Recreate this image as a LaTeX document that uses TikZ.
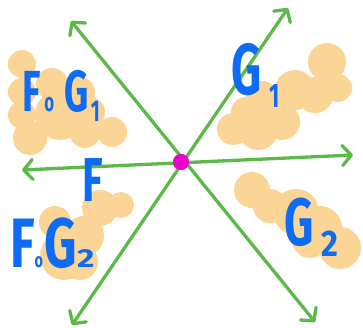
\documentclass[tikz,border=0pt]{standalone}
\usepackage{fontspec}
\usepackage{tikz}
\usetikzlibrary{arrows.meta}
\newfontfamily\handfont{Fira Sans}
\definecolor{linegreen}{HTML}{5CB848}
\definecolor{blobfill}{HTML}{FBD595}
\definecolor{inkblue}{HTML}{0F6CF2}
\definecolor{dotpink}{HTML}{EE00CC}
\newcommand{\compo}[1]{{\fontsize{#1}{#1}\selectfont o}}
\newcommand{\idx}[4]{\raisebox{#1}{\scalebox{#2}[1]{\fontsize{#3}{#3}\selectfont #4}}}

\begin{document}
\begin{tikzpicture}[x=1pt,y=-1pt,
  >={Straight Barb[length=9pt,width=20pt,round]},
  axis/.style={draw=linegreen,line width=3.3pt,line cap=round,<->},
  blob/.style={fill=blobfill,draw=none},
  lbl/.style={text=inkblue,inner sep=0pt,anchor=base west,
    font=\handfont\bfseries}]
  \useasboundingbox (0,0) rectangle (363,328);
  % shaded regions
  \fill[blob] (22,64) circle[radius=14pt] (22,92) circle[radius=14pt]
    (22,115) circle[radius=14pt] (30,138) circle[radius=17pt]
    (52,84) circle[radius=16pt] (80,92) circle[radius=15pt]
    (60,115) circle[radius=25pt] (90,112) circle[radius=15pt]
    (85,133) circle[radius=15pt] (112,132) circle[radius=15pt];
  \fill[blob] (233,129) circle[radius=16pt] (258,130) circle[radius=20pt]
    (282,122) circle[radius=18pt] (270,105) circle[radius=18pt]
    (262,97) circle[radius=16pt] (246,112) circle[radius=15pt]
    (295,90) circle[radius=20pt] (315,95) circle[radius=18pt]
    (327,62) circle[radius=19pt] (338,88) circle[radius=14pt];
  \fill[blob] (55,222) circle[radius=16pt] (64,256) circle[radius=24pt]
    (84,236) circle[radius=20pt] (100,208) circle[radius=18pt]
    (121,205) circle[radius=13pt] (80,262) circle[radius=18pt];
  \fill[blob] (252,190) circle[radius=18pt] (270,206) circle[radius=17pt]
    (296,212) circle[radius=23pt] (320,228) circle[radius=22pt]
    (340,248) circle[radius=21pt] (310,240) circle[radius=18pt];
  % axes through the centre
  \node[circle,fill=dotpink,minimum size=16pt,inner sep=0pt] (o) at (181,162) {};
  \coordinate (fL) at (22,170);
  \coordinate (fR) at (353,155);
  \coordinate (gUR) at (288,8);
  \coordinate (gLL) at (72,325);
  \coordinate (hUL) at (71,21);
  \coordinate (hLR) at (315,322);
  \draw[axis] (fL) -- (fR);
  \draw[axis] (gLL) -- (gUR);
  \draw[axis] (hUL) -- (hLR);
  \node[circle,fill=dotpink,minimum size=16pt,inner sep=0pt] at (o) {};
  % labels
  \node[lbl] (fg1) at (22,112)
    {\scalebox{0.65}[1]{\fontsize{58}{58}\selectfont
      F\hspace{6pt}\compo{26}\hspace{15pt}G\hspace{4pt}\idx{-10pt}{1}{30}{1}}};
  \node[lbl] (g1) at (231,95)
    {\scalebox{0.65}[1]{\fontsize{72}{72}\selectfont G\,\idx{-13pt}{1}{34}{1}}};
  \node[lbl] (f) at (82,201)
    {\scalebox{0.68}[1]{\fontsize{62}{62}\selectfont F}};
  \node[lbl] (fg2) at (10,267)
    {\scalebox{0.72}[1]{\fontsize{70}{70}\selectfont
      F\compo{20}\hspace{2pt}G\idx{0pt}{1.8}{26}{2}}};
  \node[lbl] (g2) at (284,245)
    {\scalebox{0.68}[1]{\fontsize{67}{67}\selectfont G\,\idx{-11pt}{1.3}{37}{2}}};
\end{tikzpicture}
\end{document}
